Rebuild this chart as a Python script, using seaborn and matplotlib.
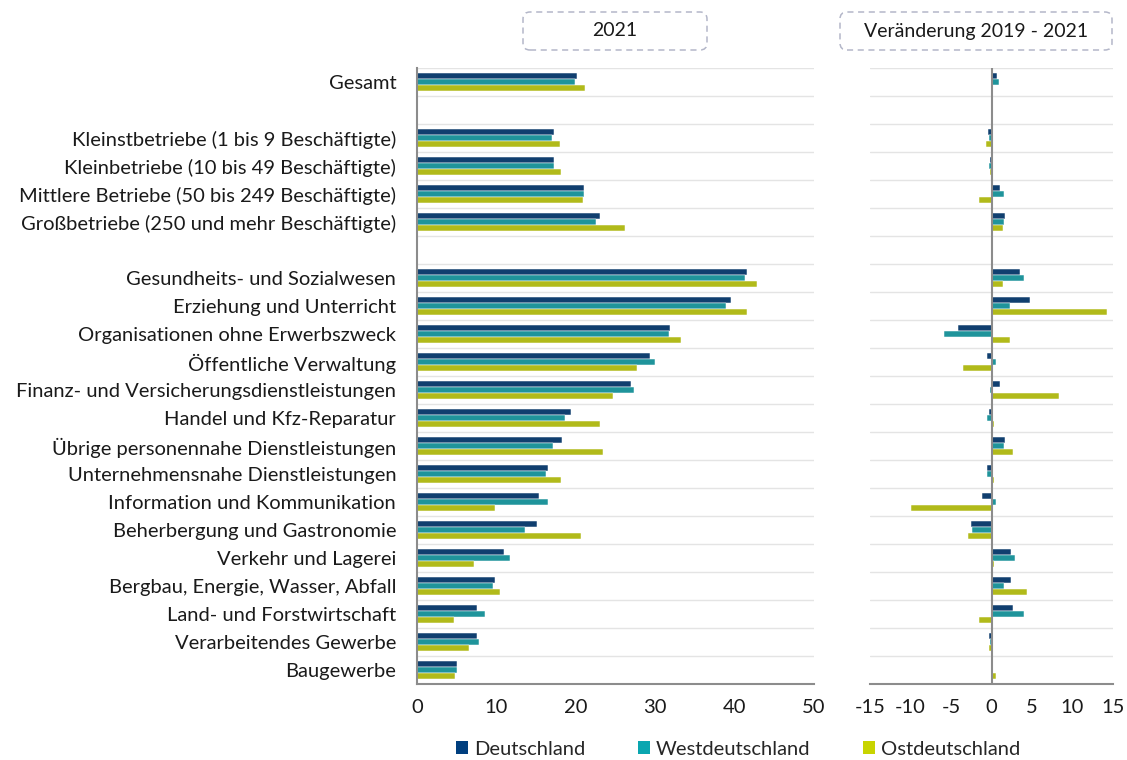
import numpy as np
import pandas as pd
import matplotlib
matplotlib.use("Agg")
import matplotlib.pyplot as plt
import seaborn as sns
from matplotlib.patches import FancyBboxPatch, Patch

# --- DATA ---
rows = [
    "Gesamt",
    " ",
    "Kleinstbetriebe (1 bis 9 Beschäftigte)",
    "Kleinbetriebe (10 bis 49 Beschäftigte)",
    "Mittlere Betriebe (50 bis 249 Beschäftigte)",
    "Großbetriebe (250 und mehr Beschäftigte)",
    "  ",
    "Gesundheits- und Sozialwesen",
    "Erziehung und Unterricht",
    "Organisationen ohne Erwerbszweck",
    "Öffentliche Verwaltung",
    "Finanz- und Versicherungsdienstleistungen",
    "Handel und Kfz-Reparatur",
    "Übrige personennahe Dienstleistungen",
    "Unternehmensnahe Dienstleistungen",
    "Information und Kommunikation",
    "Beherbergung und Gastronomie",
    "Verkehr und Lagerei",
    "Bergbau, Energie, Wasser, Abfall",
    "Land- und Forstwirtschaft",
    "Verarbeitendes Gewerbe",
    "Baugewerbe",
]
labels = [r for r in rows if r.strip()]
regions = ["Deutschland", "Westdeutschland", "Ostdeutschland"]

# share 2021 (%)
val_de = [20.1, 17.2, 17.3, 21.0, 23.1, 41.6, 39.5, 31.9, 29.4, 27.0, 19.4, 18.3, 16.5, 15.4, 15.1, 10.9, 9.8, 7.6, 7.6, 5.0]
val_west = [19.9, 17.0, 17.2, 21.0, 22.5, 41.3, 38.9, 31.7, 30.0, 27.3, 18.7, 17.1, 16.2, 16.5, 13.6, 11.7, 9.6, 8.6, 7.8, 5.1]
val_ost = [21.1, 18.0, 18.1, 20.9, 26.2, 42.8, 41.5, 33.3, 27.7, 24.7, 23.0, 23.4, 18.1, 9.8, 20.6, 7.2, 10.4, 4.7, 6.6, 4.8]

# change 2019 - 2021 (percentage points)
chg_de = [0.7, -0.4, -0.2, 1.0, 1.7, 3.5, 4.7, -4.2, -0.5, 1.0, -0.3, 1.7, -0.5, -1.2, -2.5, 2.4, 2.4, 2.6, -0.3, 0.0]
chg_west = [0.9, -0.3, -0.3, 1.6, 1.6, 4.0, 2.3, -5.9, 0.5, -0.15, -0.5, 1.5, -0.6, 0.5, -2.4, 2.9, 1.6, 4.0, -0.25, 0.0]
chg_ost = [0.0, -0.7, -0.15, -1.5, 1.4, 1.4, 14.3, 2.3, -3.5, 8.3, 0.3, 2.6, 0.25, -9.9, -2.9, 0.3, 4.4, -1.5, -0.3, 0.6]

COLORS = {"Deutschland": "#003f7f", "Westdeutschland": "#0aa6b0", "Ostdeutschland": "#c8d400"}


def long_frame(a, b, c):
    parts = []
    for reg, vals in zip(regions, [a, b, c]):
        parts.append(pd.DataFrame({"label": labels, "region": reg, "value": vals}))
    return pd.concat(parts, ignore_index=True)


df_lvl = long_frame(val_de, val_west, val_ost)
df_chg = long_frame(chg_de, chg_west, chg_ost)

# --- THEME ---
sns.set_theme(style="white")
plt.rcParams["font.family"] = ["Lato", "DejaVu Sans"]
plt.rcParams["axes.unicode_minus"] = False
GRID = "#e4e4e4"
AXC = "#8c8c8c"
FS = 14.5

fig = plt.figure(figsize=(11.27, 7.6), dpi=100)
ax1 = fig.add_axes([0.370, 0.100, 0.3523, 0.8105])
ax2 = fig.add_axes([0.772, 0.100, 0.2156, 0.8105])

for ax, df in [(ax1, df_lvl), (ax2, df_chg)]:
    sns.barplot(data=df, y="label", x="value", hue="region", order=rows,
                hue_order=regions, palette=COLORS, orient="h", errorbar=None,
                width=0.675, gap=0.04, edgecolor="white", linewidth=0.35, ax=ax)
    ax.get_legend().remove()
    ax.set_ylim(len(rows) - 0.5, -0.5)
    ax.set_yticks(np.arange(-0.5, len(rows) - 1, 1), minor=True)
    ax.grid(False)
    ax.grid(which="minor", axis="y", color=GRID, linewidth=1)
    ax.tick_params(axis="y", which="both", length=0)
    ax.set_xlabel("")
    ax.set_ylabel("")
    for s in ["top", "right"]:
        ax.spines[s].set_visible(False)
    ax.spines["bottom"].set_color(AXC)
    ax.spines["bottom"].set_linewidth(1.5)
    ax.tick_params(axis="x", direction="out", length=7, width=1.5, color=AXC,
                   labelsize=FS, labelcolor="#1a1a1a", pad=4)

ax1.set_xlim(0, 50)
ax1.set_xticks([0, 10, 20, 30, 40, 50])
ax1.spines["left"].set_color(AXC)
ax1.spines["left"].set_linewidth(1.5)
ax1.tick_params(axis="y", labelsize=FS, labelcolor="#1a1a1a", pad=15)

ax2.set_xlim(-15, 15)
ax2.set_xticks([-15, -10, -5, 0, 5, 10, 15])
ax2.set_yticklabels([])
ax2.spines["left"].set_visible(False)
ax2.axvline(0, color=AXC, linewidth=1.5, zorder=5)

# --- HEADER BOXES ---
for (x0, x1), txt in [((5.23, 7.07), "2021"), ((8.40, 11.12), "Veränderung 2019 - 2021")]:
    box = FancyBboxPatch((x0, 7.10), x1 - x0, 0.38, boxstyle="round,pad=0,rounding_size=0.07",
                         transform=fig.dpi_scale_trans, fill=False, edgecolor="#b4b7c9",
                         linestyle=(0, (4, 3)), linewidth=1.1)
    fig.patches.append(box)
    fig.text((x0 + x1) / 2 / 11.27, 7.29 / 7.6, txt, ha="center", va="center",
             fontsize=14, color="#1a1a1a")

# --- LEGEND ---
handles = [Patch(facecolor=COLORS[r], edgecolor="none") for r in regions]
fig.legend(handles, regions, loc="center", bbox_to_anchor=(0.655, 0.014), ncol=3,
           frameon=False, fontsize=FS, handlelength=0.6, handleheight=0.6,
           handletextpad=0.3, columnspacing=2.6)

fig.savefig("out.png", dpi=100)
